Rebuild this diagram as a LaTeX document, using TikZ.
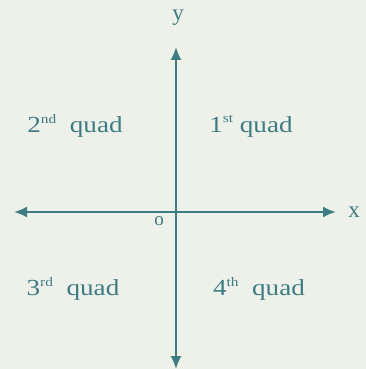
\documentclass[tikz,border=0pt]{standalone}
\usepackage{fontspec}
\setmainfont{Liberation Serif}
\usetikzlibrary{arrows.meta}
\definecolor{ink}{HTML}{3E7C84}
\definecolor{paper}{HTML}{EEF1EA}
\newcommand{\quadsup}[1]{\raisebox{0.42em}{\fontsize{13}{13}\selectfont #1}}
\newcommand{\wide}[1]{\scalebox{1.18}[1]{#1}}
\begin{document}
\begin{tikzpicture}[x=1pt,y=-1pt,
  axis/.style={draw=ink,line width=2pt,-{Latex[length=13pt,width=11pt]}},
  lbl/.style={text=ink,font=\fontsize{23}{26}\selectfont,inner sep=0pt}]
\fill[paper] (0,0) rectangle (366,369);
\useasboundingbox (0,0) rectangle (366,369);
\coordinate (o) at (176,212);
\coordinate (top) at (176,47);
\coordinate (bot) at (176,369);
\coordinate (left) at (14,212);
\coordinate (right) at (336,212);
\draw[axis] (o) -- (top);
\draw[axis] (o) -- (bot);
\draw[axis] (o) -- (left);
\draw[axis] (o) -- (right);
\node[lbl] (y) at (178,18) {y};
\node[lbl] (x) at (354,212) {x};
\node[lbl,font=\fontsize{19}{20}\selectfont] (O) at (159,221) {o};
\node[lbl] (q2) at (75,126) {\wide{2\quadsup{nd}\ \ quad}};
\node[lbl] (q1) at (251,126) {\wide{1\quadsup{st}\ quad}};
\node[lbl] (q3) at (73,289) {\wide{3\quadsup{rd}\ \ quad}};
\node[lbl] (q4) at (259,289) {\wide{4\quadsup{th}\ \ quad}};
\end{tikzpicture}
\end{document}
